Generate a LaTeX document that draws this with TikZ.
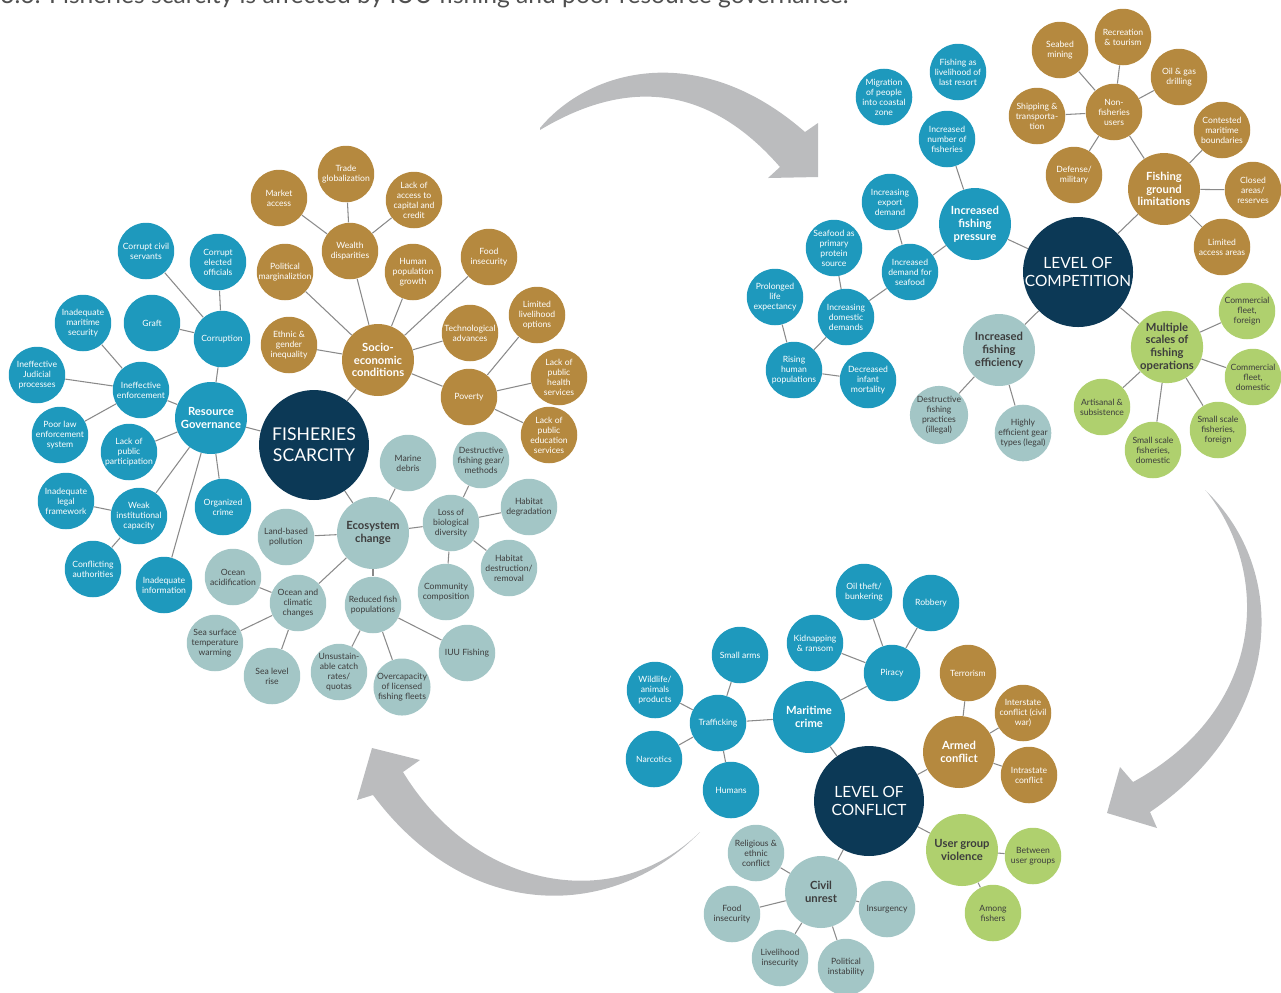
\documentclass[tikz,border=0pt]{standalone}
\usepackage{fontspec}
\setmainfont{Lato}
\usepackage[HTML]{xcolor}
\usepackage{tikz}
\usetikzlibrary{positioning}

\definecolor{navy}{HTML}{0C3956}
\definecolor{cblue}{HTML}{1E99BD}
\definecolor{cgold}{HTML}{B5893F}
\definecolor{cteal}{HTML}{A3C6C6}
\definecolor{cgreen}{HTML}{AFD06E}
\definecolor{linegray}{HTML}{8A8A8A}
\definecolor{arrowgray}{HTML}{BBBCBE}
\definecolor{darktext}{HTML}{3D3D3D}
\definecolor{capgray}{HTML}{505050}

\begin{document}
\begin{tikzpicture}[x=0.02cm, y=-0.02cm,
  ball/.style={circle, inner sep=0pt, minimum size=1.13cm, align=center, font=\fontsize{4.9}{5.7}\selectfont},
  hub/.style={ball, minimum size=1.44cm, font=\fontsize{6.4}{7.3}\selectfont\bfseries},
  core/.style={circle, inner sep=0pt, minimum size=2.2cm, align=center, fill=navy, text=white, font=\fontsize{8.8}{10.2}\selectfont},
  blueball/.style={fill=cblue, text=white},
  goldball/.style={fill=cgold, text=white},
  tealball/.style={fill=cteal, text=darktext},
  greenball/.style={fill=cgreen, text=darktext},
  link/.style={draw=linegray, line width=0.6pt},
  bigarrow/.style={fill=arrowgray}]
\useasboundingbox (0,0) rectangle (1281,992);

% Caption (cut by the page edge)
\node[anchor=base west, inner sep=0pt, text=capgray, font=\fontsize{14}{16}\selectfont] (caption) at (0,3) {3.6: Fisheries scarcity is affected by IUU fishing and poor resource governance.};

% Big arrows
\fill[bigarrow] (540,128) .. controls (590,68) and (700,40) .. (805,132) -- (818,123) -- (818,177) -- (768,178) -- (780,167) .. controls (700,75) and (615,85) .. (540,130) -- cycle;
\fill[bigarrow] (1205,490) .. controls (1290,570) and (1285,720) .. (1150,812) -- (1157,828) -- (1107,813) -- (1120,767) -- (1133,782) .. controls (1265,710) and (1272,575) .. (1207,492) -- cycle;
\fill[bigarrow] (700,832) .. controls (615,920) and (470,925) .. (373,795) -- (357,800) -- (372,748) -- (420,760) -- (403,772) .. controls (475,890) and (615,915) .. (700,832) -- cycle;

% Fisheries scarcity
\node[core, font=\fontsize{10}{12}\selectfont] (fs) at (314,445) {FISHERIES\\SCARCITY};

% Resource governance
\node[hub, blueball] (rg) at (211,418) {Resource\\Governance};
\node[ball, blueball] (corr) at (222,339) {Corruption};
\node[ball, blueball] (ccs) at (146,251) {Corrupt civil\\servants};
\node[ball, blueball] (ceo) at (218,262) {Corrupt\\elected\\officials};
\node[ball, blueball] (graft) at (152,323) {Graft};
\node[ball, blueball] (ims) at (83,323) {Inadequate\\maritime\\security};
\node[ball, blueball] (ienf) at (141,390) {Ineffective\\enforcement};
\node[ball, blueball] (ijp) at (37,375) {Ineffective\\Judicial\\processes};
\node[ball, blueball] (ples) at (60,435) {Poor law\\enforcement\\system};
\node[ball, blueball] (lpp) at (129,452) {Lack of\\public\\participation};
\node[ball, blueball] (wic) at (139,516) {Weak\\institutional\\capacity};
\node[ball, blueball] (ilf) at (66,501) {Inadequate\\legal\\framework};
\node[ball, blueball] (cauth) at (93,569) {Conflicting\\authorities};
\node[ball, blueball] (iinfo) at (164,585) {Inadequate\\information};
\node[ball, blueball] (ocrime) at (223,507) {Organized\\crime};

% Socio-economic conditions
\node[hub, goldball] (sec) at (378,360) {Socio-\\economic\\conditions};
\node[ball, goldball] (market) at (279,198) {Market\\access};
\node[ball, goldball] (trade) at (346,174) {Trade\\globalization};
\node[ball, goldball] (lacc) at (414,200) {Lack of\\access to\\capital and\\credit};
\node[ball, goldball] (wealth) at (350,251) {Wealth\\disparities};
\node[ball, goldball] (polm) at (285,272) {Political\\marginaliztion};
\node[ball, goldball] (hpg) at (413,272) {Human\\population\\growth};
\node[ball, goldball] (food) at (489,257) {Food\\insecurity};
\node[ball, goldball] (ethnic) at (289,345) {Ethnic \&\\gender\\inequality};
\node[ball, goldball] (tech) at (470,333) {Technological\\advances};
\node[ball, goldball] (lliv) at (537,315) {Limited\\livelihood\\options};
\node[ball, goldball] (poverty) at (469,397) {Poverty};
\node[ball, goldball] (lphs) at (559,377) {Lack of\\public\\health\\services};
\node[ball, goldball] (lpes) at (549,435) {Lack of\\public\\education\\services};

% Ecosystem change
\node[hub, tealball] (eco) at (373,533) {Ecosystem\\change};
\node[ball, tealball] (debris) at (408,463) {Marine\\debris};
\node[ball, tealball] (land) at (286,537) {Land-based\\pollution};
\node[ball, tealball] (lbd) at (451,523) {Loss of\\biological\\diversity};
\node[ball, tealball] (dfg) at (481,460) {Destructive\\fishing gear/\\methods};
\node[ball, tealball] (hdeg) at (529,507) {Habitat\\degradation};
\node[ball, tealball] (hdes) at (509,568) {Habitat\\destruction/\\removal};
\node[ball, tealball] (comm) at (446,592) {Community\\composition};
\node[ball, tealball] (occ) at (298,603) {Ocean and\\climatic\\changes};
\node[ball, tealball] (oacid) at (233,577) {Ocean\\acidification};
\node[ball, tealball] (sst) at (215,643) {Sea surface\\temperature\\warming};
\node[ball, tealball] (slr) at (272,676) {Sea level\\rise};
\node[ball, tealball] (rfp) at (373,605) {Reduced fish\\populations};
\node[ball, tealball] (ucr) at (339,672) {Unsustain-\\able catch\\rates/\\quotas};
\node[ball, tealball] (ovc) at (402,687) {Overcapacity\\of licensed\\fishing fleets};
\node[ball, tealball] (iuu) at (467,653) {IUU Fishing};

% Level of competition
\node[core] (loc) at (1078,272) {LEVEL OF\\COMPETITION};
\node[hub, blueball] (ifp) at (975,224) {Increased\\fishing\\pressure};
\node[ball, blueball] (inf) at (947,139) {Increased\\number of\\fisheries};
\node[ball, blueball] (mig) at (884,97) {Migration\\of people\\into coastal\\zone};
\node[ball, blueball] (flr) at (958,72) {Fishing as\\livelihood of\\last resort};
\node[ball, blueball] (ied) at (890,202) {Increasing\\export\\demand};
\node[ball, blueball] (ids) at (910,272) {Increased\\demand for\\seafood};
\node[ball, blueball] (sps) at (834,248) {Seafood as\\primary\\protein\\source};
\node[ball, blueball] (idd) at (846,317) {Increasing\\domestic\\demands};
\node[ball, blueball] (ple) at (775,297) {Prolonged\\life\\expectancy};
\node[ball, blueball] (rhp) at (794,370) {Rising\\human\\populations};
\node[ball, blueball] (dim) at (868,380) {Decreased\\infant\\mortality};
\node[hub, tealball] (ife) at (999,350) {Increased\\fishing\\efficiency};
\node[ball, tealball] (dfp) at (939,415) {Destructive\\fishing\\practices\\(illegal)};
\node[ball, tealball] (heg) at (1023,433) {Highly\\efficient gear\\types (legal)};
\node[hub, goldball] (fgl) at (1164,189) {Fishing\\ground\\limitations};
\node[ball, goldball] (nfu) at (1114,112) {Non-\\fisheries\\users};
\node[ball, goldball] (seabed) at (1060,50) {Seabed\\mining};
\node[ball, goldball] (recr) at (1123,37) {Recreation\\\& tourism};
\node[ball, goldball] (oilgas) at (1179,77) {Oil \& gas\\drilling};
\node[ball, goldball] (ship) at (1037,116) {Shipping \&\\transporta-\\tion};
\node[ball, goldball] (defense) at (1074,175) {Defense/\\military};
\node[ball, goldball] (cmb) at (1222,130) {Contested\\maritime\\boundaries};
\node[ball, goldball] (closed) at (1253,190) {Closed\\areas/\\reserves};
\node[ball, goldball] (laa) at (1222,247) {Limited\\access areas};
\node[hub, greenball] (msfo) at (1167,347) {Multiple\\scales of\\fishing\\operations};
\node[ball, greenball] (cff) at (1247,311) {Commercial\\fleet,\\foreign};
\node[ball, greenball] (cfd) at (1253,377) {Commercial\\fleet,\\domestic};
\node[ball, greenball] (artis) at (1102,407) {Artisanal \&\\subsistence};
\node[ball, greenball] (ssd) at (1153,450) {Small scale\\fisheries,\\domestic};
\node[ball, greenball] (ssf) at (1218,430) {Small scale\\fisheries,\\foreign};

% Level of conflict
\node[core] (lcf) at (869,801) {LEVEL OF\\CONFLICT};
\node[hub, blueball] (mcrime) at (809,717) {Maritime\\crime};
\node[ball, blueball] (piracy) at (892,673) {Piracy};
\node[ball, blueball] (oiltheft) at (864,592) {Oil theft/\\bunkering};
\node[ball, blueball] (robbery) at (931,603) {Robbery};
\node[ball, blueball] (kidnap) at (815,643) {Kidnapping\\\& ransom};
\node[ball, blueball] (traff) at (718,723) {Trafficking};
\node[ball, blueball] (arms) at (740,655) {Small arms};
\node[ball, blueball] (wildlife) at (655,690) {Wildlife/\\animals\\products};
\node[ball, blueball] (narc) at (654,759) {Narcotics};
\node[ball, blueball] (humans) at (731,790) {Humans};
\node[hub, goldball] (armed) at (959,752) {Armed\\conflict};
\node[ball, goldball] (terror) at (968,673) {Terrorism};
\node[ball, goldball] (inter) at (1023,713) {Interstate\\conflict (civil\\war)};
\node[ball, goldball] (intra) at (1029,775) {Intrastate\\conflict};
\node[hub, greenball] (ugv) at (962,850) {User group\\violence};
\node[ball, greenball] (between) at (1033,856) {Between\\user groups};
\node[ball, greenball] (among) at (993,913) {Among\\fishers};
\node[hub, tealball] (civil) at (821,892) {Civil\\unrest};
\node[ball, tealball] (relig) at (756,853) {Religious \&\\ethnic\\conflict};
\node[ball, tealball] (cfood) at (732,914) {Food\\insecurity};
\node[ball, tealball] (lins) at (780,958) {Livelihood\\insecurity};
\node[ball, tealball] (polin) at (846,967) {Political\\instability};
\node[ball, tealball] (insurg) at (887,909) {Insurgency};

% Links around fisheries scarcity
\draw[link] (fs) -- (rg);
\draw[link] (fs) -- (sec);
\draw[link] (fs) -- (eco);
\draw[link] (rg) -- (corr);
\draw[link] (rg) -- (ienf);
\draw[link] (rg) -- (lpp);
\draw[link] (rg) -- (wic);
\draw[link] (rg) -- (iinfo);
\draw[link] (rg) -- (ocrime);
\draw[link] (corr) -- (ccs);
\draw[link] (corr) -- (ceo);
\draw[link] (corr) -- (graft);
\draw[link] (ienf) -- (ims);
\draw[link] (ienf) -- (ijp);
\draw[link] (ienf) -- (ples);
\draw[link] (wic) -- (ilf);
\draw[link] (wic) -- (cauth);
\draw[link] (sec) -- (ethnic);
\draw[link] (sec) -- (polm);
\draw[link] (sec) -- (wealth);
\draw[link] (sec) -- (hpg);
\draw[link] (sec) -- (food);
\draw[link] (sec) -- (tech);
\draw[link] (sec) -- (poverty);
\draw[link] (wealth) -- (market);
\draw[link] (wealth) -- (trade);
\draw[link] (wealth) -- (lacc);
\draw[link] (poverty) -- (lliv);
\draw[link] (poverty) -- (lphs);
\draw[link] (poverty) -- (lpes);
\draw[link] (eco) -- (debris);
\draw[link] (eco) -- (land);
\draw[link] (eco) -- (lbd);
\draw[link] (eco) -- (occ);
\draw[link] (eco) -- (rfp);
\draw[link] (lbd) -- (dfg);
\draw[link] (lbd) -- (hdeg);
\draw[link] (lbd) -- (hdes);
\draw[link] (lbd) -- (comm);
\draw[link] (occ) -- (oacid);
\draw[link] (occ) -- (sst);
\draw[link] (occ) -- (slr);
\draw[link] (rfp) -- (ucr);
\draw[link] (rfp) -- (ovc);
\draw[link] (rfp) -- (iuu);

% Links around competition
\draw[link] (loc) -- (ifp);
\draw[link] (loc) -- (fgl);
\draw[link] (loc) -- (ife);
\draw[link] (loc) -- (msfo);
\draw[link] (ifp) -- (inf);
\draw[link] (ifp) -- (ids);
\draw[link] (ids) -- (ied);
\draw[link] (ids) -- (idd);
\draw[link] (idd) -- (sps);
\draw[link] (idd) -- (rhp);
\draw[link] (rhp) -- (ple);
\draw[link] (rhp) -- (dim);
\draw[link] (ife) -- (dfp);
\draw[link] (ife) -- (heg);
\draw[link] (fgl) -- (nfu);
\draw[link] (fgl) -- (cmb);
\draw[link] (fgl) -- (closed);
\draw[link] (fgl) -- (laa);
\draw[link] (nfu) -- (seabed);
\draw[link] (nfu) -- (recr);
\draw[link] (nfu) -- (oilgas);
\draw[link] (nfu) -- (ship);
\draw[link] (nfu) -- (defense);
\draw[link] (msfo) -- (cff);
\draw[link] (msfo) -- (cfd);
\draw[link] (msfo) -- (artis);
\draw[link] (msfo) -- (ssd);
\draw[link] (msfo) -- (ssf);

% Links around conflict
\draw[link] (lcf) -- (mcrime);
\draw[link] (lcf) -- (armed);
\draw[link] (lcf) -- (ugv);
\draw[link] (lcf) -- (civil);
\draw[link] (mcrime) -- (traff);
\draw[link] (mcrime) -- (piracy);
\draw[link] (piracy) -- (kidnap);
\draw[link] (piracy) -- (oiltheft);
\draw[link] (piracy) -- (robbery);
\draw[link] (traff) -- (arms);
\draw[link] (traff) -- (wildlife);
\draw[link] (traff) -- (narc);
\draw[link] (traff) -- (humans);
\draw[link] (armed) -- (terror);
\draw[link] (armed) -- (inter);
\draw[link] (armed) -- (intra);
\draw[link] (ugv) -- (between);
\draw[link] (ugv) -- (among);
\draw[link] (civil) -- (relig);
\draw[link] (civil) -- (cfood);
\draw[link] (civil) -- (lins);
\draw[link] (civil) -- (polin);
\draw[link] (civil) -- (insurg);
\end{tikzpicture}
\end{document}
